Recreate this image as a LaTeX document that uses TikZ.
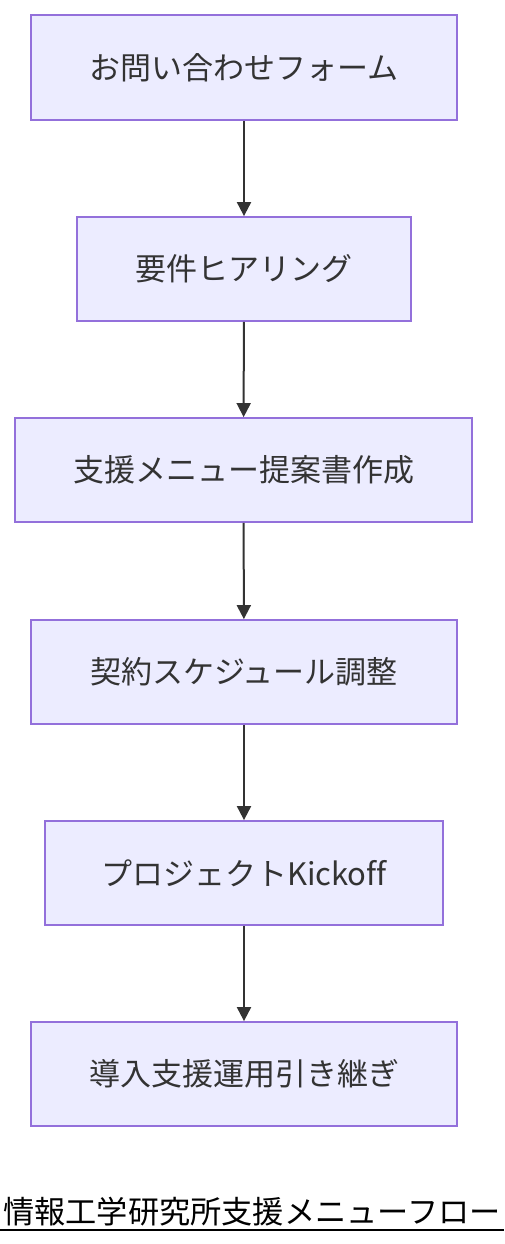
\documentclass[tikz,border=0pt]{standalone}
\usepackage{fontspec}
\newfontfamily\cjk[Ligatures=NoCommon]{Noto Sans CJK JP}
\usetikzlibrary{arrows.meta}
\definecolor{boxfill}{HTML}{ECECFF}
\definecolor{boxline}{HTML}{9370DB}
\definecolor{ink}{HTML}{333333}
\begin{document}
\begin{tikzpicture}[x=1pt,y=-1pt,
  stepbox/.style={draw=boxline,fill=boxfill,line width=1.8pt,inner sep=0pt,
    font=\cjk\fontsize{31}{36}\selectfont,text=ink},
  flow/.style={draw=ink,line width=2pt,-{Triangle[length=14pt,width=14pt]}}]
\useasboundingbox (0,0) rectangle (504,1244);
\node[stepbox,minimum width=426pt,minimum height=105pt] (a) at (244,67.5) {お問い合わせフォーム};
\node[stepbox,minimum width=334pt,minimum height=104pt] (b) at (244,269) {要件ヒアリング};
\node[stepbox,minimum width=457pt,minimum height=104pt] (c) at (243.5,470) {支援メニュー提案書作成};
\node[stepbox,minimum width=426pt,minimum height=104pt] (d) at (244,672) {契約スケジュール調整};
\node[stepbox,minimum width=398pt,minimum height=104pt] (e) at (244,873) {プロジェクトKickoff};
\node[stepbox,minimum width=426pt,minimum height=104pt] (f) at (244,1074) {導入支援運用引き継ぎ};
\draw[flow] (a) -- (b);
\draw[flow] (b) -- (c);
\draw[flow] (c) -- (d);
\draw[flow] (d) -- (e);
\draw[flow] (e) -- (f);
\node[font=\cjk\fontsize{31.2}{36}\selectfont,text=black,inner sep=0pt] (t) at (252,1212) {情報工学研究所支援メニューフロー};
\draw[line width=2pt,black] (0,1230) -- (504,1230);
\end{tikzpicture}
\end{document}
